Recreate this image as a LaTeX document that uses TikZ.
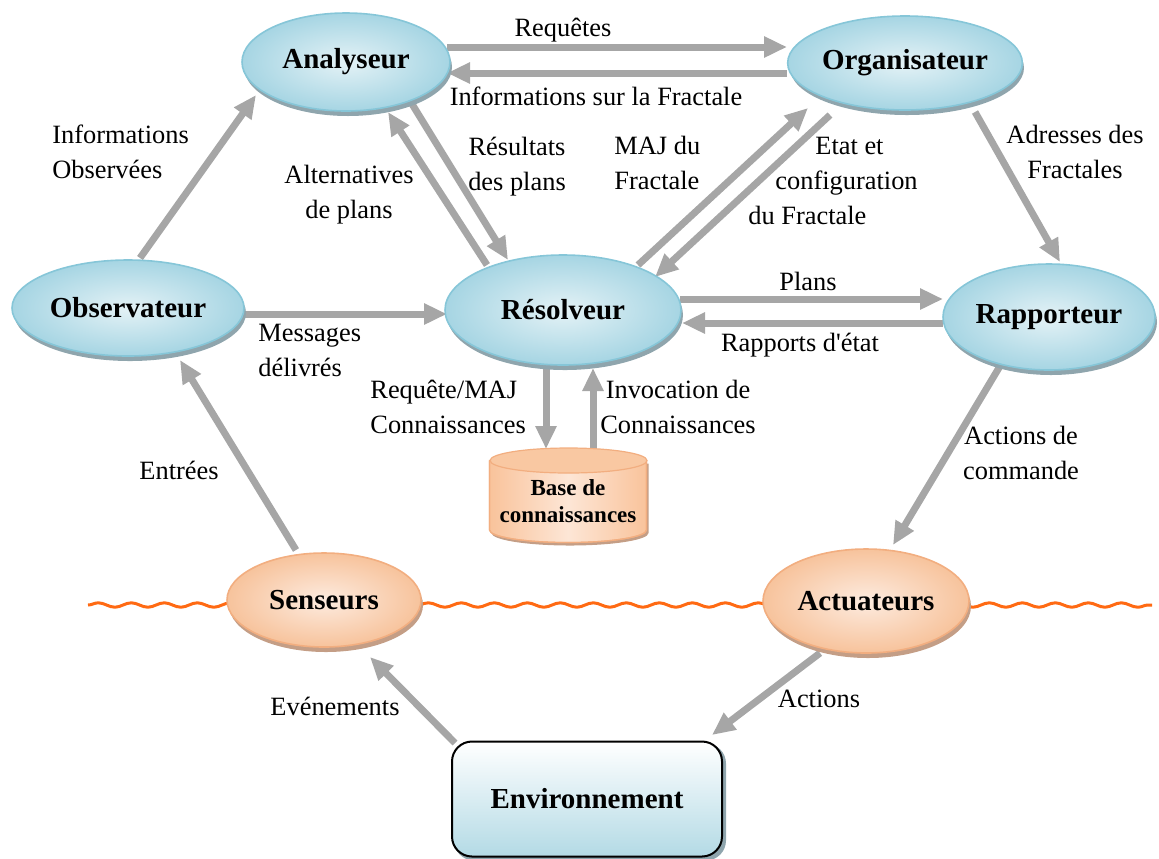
\documentclass[tikz,border=0pt]{standalone}
\usepackage{fontspec}
\setmainfont{Liberation Serif}
\usetikzlibrary{shapes.geometric,arrows.meta,calc,decorations.pathmorphing}

\definecolor{arrowgray}{HTML}{A6A6A6}
\definecolor{bluein}{HTML}{E4F2F6}
\definecolor{blueout}{HTML}{A6D5E3}
\definecolor{bluerim}{HTML}{86C6D8}
\definecolor{blueshadow}{HTML}{8FA5AD}
\definecolor{orangein}{HTML}{FDEBDF}
\definecolor{orangeout}{HTML}{F7C39C}
\definecolor{orangerim}{HTML}{F2AE80}
\definecolor{orangeshadow}{HTML}{C49E86}
\definecolor{wavecol}{HTML}{FF6A13}
\definecolor{envbottom}{HTML}{B3DAE5}
\definecolor{kbedge}{HTML}{F9C39B}
\definecolor{kbmid}{HTML}{FDE6D6}
\definecolor{kbtop}{HTML}{F9C8A2}

\pgfdeclarelayer{back}
\pgfdeclarelayer{shade}
\pgfsetlayers{back,shade,main}

\begin{document}
\begin{tikzpicture}[x=0.5pt,y=-0.5pt,
  lbl/.style={font=\fontsize{13.2}{17.5}\selectfont, inner sep=0pt},
  flow/.style={draw=arrowgray, line width=3.5pt, -{Triangle[length=11.5pt,width=10pt]}},
  bold/.style={font=\bfseries\fontsize{14.5}{17}\selectfont, inner sep=0pt},
  blueball/.style={bold, ellipse, draw=bluerim, line width=0.8pt, inner color=bluein, outer color=blueout},
  orangeball/.style={bold, ellipse, draw=orangerim, line width=0.8pt, inner color=orangein, outer color=orangeout},
  envbox/.style={bold, rectangle, rounded corners=10pt, draw=black, line width=1pt,
    top color=white, bottom color=envbottom, minimum width=135pt, minimum height=57.5pt},
  kbtext/.style={font=\bfseries\fontsize{11.5}{13.5}\selectfont, align=center, inner sep=0pt},
  drum/.style={draw=orangerim, line width=0.6pt}
]
\useasboundingbox (0,0) rectangle (1159,858);

% agents
\node[blueball, minimum width=104pt, minimum height=49pt] (ana) at (346,62) {Analyseur};
\node[blueball, minimum width=117pt, minimum height=47pt] (org) at (905,63) {Organisateur};
\node[blueball, minimum width=116pt, minimum height=48pt] (obs) at (128,308) {Observateur};
\node[blueball, minimum width=118pt, minimum height=55pt] (res) at (563,310) {Résolveur};
\node[blueball, minimum width=106pt, minimum height=53pt] (rap) at (1049,317) {Rapporteur};
\node[orangeball, minimum width=97pt, minimum height=47pt] (sen) at (324,600) {Senseurs};
\node[orangeball, minimum width=103pt, minimum height=52pt] (act) at (866,601) {Actuateurs};
\node[kbtext] (kb) at (568,501) {Base de\\connaissances};
\node[envbox] (env) at (587,799) {Environnement};

% knowledge base drum, drawn under its label
\begin{pgfonlayer}{shade}
  \fill[orangeshadow] ($(kb)+(-76.5,-37.5)$) -- ++(0,69.5)
    arc[start angle=180, end angle=360, x radius=39.25pt, y radius=6.25pt]
    -- ++(0,-69.5) -- cycle;
  \path[drum, shading=axis, left color=kbedge, right color=kbedge, middle color=kbmid, shading angle=90]
    ($(kb)+(-78.5,-40.5)$) -- ++(0,69.5)
    arc[start angle=180, end angle=360, x radius=39.25pt, y radius=6.25pt]
    -- ++(0,-69.5) -- cycle;
  \draw[drum] ($(kb)+(-78.5,-40.5)$) -- ++(0,69.5)
    arc[start angle=180, end angle=360, x radius=39.25pt, y radius=6.25pt]
    -- ++(0,-69.5);
  \filldraw[drum, fill=kbtop] ($(kb)+(0.5,-40.5)$) ellipse [x radius=39.25pt, y radius=6.25pt];
\end{pgfonlayer}

% drop shadows
\begin{pgfonlayer}{shade}
  \foreach \n/\rx/\ry/\c in {ana/52/24.5/blueshadow, org/58.5/23.5/blueshadow,
      obs/58/24/blueshadow, res/59/27.5/blueshadow, rap/53/26.5/blueshadow,
      sen/48.5/23.5/orangeshadow, act/51.5/26/orangeshadow}
    \fill[\c] ($(\n)+(2,5)$) ellipse [x radius=\rx pt, y radius=\ry pt];
  \fill[blueshadow, rounded corners=10pt] ($(env.south west)+(3,3)$) rectangle ($(env.north east)+(3,3)$);
\end{pgfonlayer}

% field boundary
\begin{pgfonlayer}{back}
  \draw[wavecol, line width=1.5pt, decorate,
    decoration={snake, segment length=16.5pt, amplitude=1.1pt}] (88,605) -- (1152,605);
\end{pgfonlayer}

% message flows
\begin{pgfonlayer}{back}
  \draw[flow] ($(ana)+(101,-15)$) -- ($(org)+(-118,-16)$);
  \draw[flow] ($(org)+(-118,10)$) -- ($(ana)+(101,11)$);
  \draw[flow] ($(obs)+(12,-50)$) -- ($(ana)+(-90,33)$);
  \draw[flow] ($(res)+(-76,-45)$) -- ($(ana)+(42,50)$);
  \draw[flow] ($(ana)+(66,42)$) -- ($(res)+(-55,-50)$);
  \draw[flow] ($(res)+(75,-45)$) -- ($(org)+(-97,45)$);
  \draw[flow] ($(org)+(-75,52)$) -- ($(res)+(92,-33)$);
  \draw[flow] ($(org)+(70,49)$) -- ($(rap)+(11,-55)$);
  \draw[flow] ($(obs)+(117,6)$) -- ($(res)+(-116,4)$);
  \draw[flow] ($(res)+(117,-11)$) -- ($(rap)+(-106,-18)$);
  \draw[flow] ($(rap)+(-106,6)$) -- ($(res)+(119,13)$);
  \draw[flow] ($(res)+(-17,55)$) -- ($(kb)+(-22,-52)$);
  \draw[flow] ($(kb)+(25,-51)$) -- ($(res)+(30,58)$);
  \draw[flow] ($(sen)+(-28,-50)$) -- ($(obs)+(52,52)$);
  \draw[flow] ($(rap)+(-49,49)$) -- ($(act)+(27,-56)$);
  \draw[flow] ($(env)+(-132,-56)$) -- ($(sen)+(46,57)$);
  \draw[flow] ($(act)+(-46,52)$) -- ($(env)+(125,-64)$);
\end{pgfonlayer}

% flow labels
\node[lbl] (lreq) at (563,30) {Requêtes};
\node[lbl] (linf) at (596,96) {Informations sur la Fractale};
\node[lbl, anchor=west, align=left] (lobs) at (52,152) {Informations\\Observées};
\node[lbl, align=center] (lalt) at (349,195) {Alternatives\\de plans};
\node[lbl, align=center] (lres) at (517,167) {Résultats\\des plans};
\node[lbl, anchor=west, align=left] (lmaj) at (614,163) {MAJ du\\Fractale};
\node[lbl, anchor=west, align=left] (letat) at (748,181) {\hspace*{33.5pt}Etat et\\\hspace*{13.5pt}configuration\\du Fractale};
\node[lbl, align=center] (ladr) at (1075,152) {Adresses des\\Fractales};
\node[lbl, anchor=west, align=left] (lmsg) at (258,350) {Messages\\délivrés};
\node[lbl] (lplans) at (808,281) {Plans};
\node[lbl] (lrap) at (800,345) {Rapports d\textquotesingle état};
\node[lbl, anchor=west, align=left] (lreqk) at (370,407) {Requête/MAJ\\Connaissances};
\node[lbl, align=center] (linv) at (678,407) {Invocation de\\Connaissances};
\node[lbl] (lent) at (179,470) {Entrées};
\node[lbl, align=center] (lcmd) at (1021,453) {Actions de\\commande};
\node[lbl] (lev) at (335,706) {Evénements};
\node[lbl] (lact) at (819,699) {Actions};
\end{tikzpicture}
\end{document}
